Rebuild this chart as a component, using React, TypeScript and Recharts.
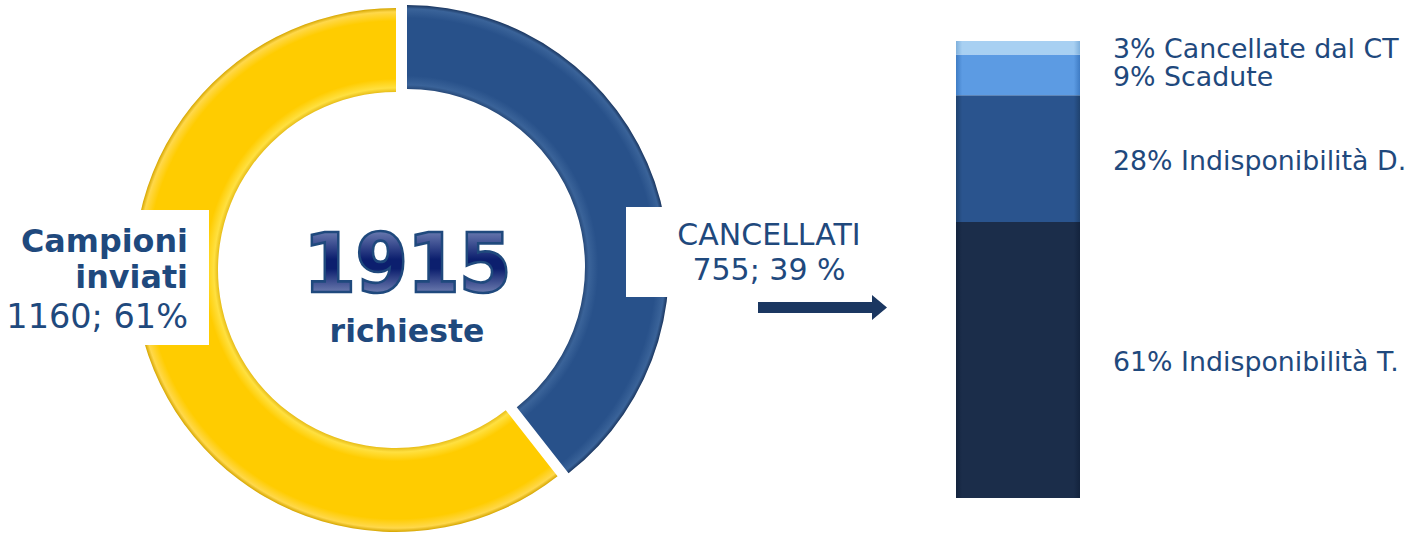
import React from 'react';
import { PieChart, Pie, Cell, BarChart, Bar, XAxis, YAxis, LabelList } from 'recharts';

// donut: richieste totali
const donutNames = ['CANCELLATI', 'Campioni inviati'];
const donutValues = [755, 1160];
const donutPct = [39, 61];

// breakdown of the cancelled requests (bottom to top)
const causeNames = ['Indisponibilità T.', 'Indisponibilità D.', 'Scadute', 'Cancellate dal CT'];
const causePct = [61, 28, 9, 3];
const causeKeys = ['t', 'd', 's', 'c'];

const TOTAL = 1915;
const TEXT = '#1F497D';
const FONT = '"DejaVu Sans", Verdana, sans-serif';

const donutData = donutNames.map((name, i) => ({ name, value: donutValues[i] }));
const barRow: Record<string, number | string> = { name: 'Cancellati' };
causeKeys.forEach((k, i) => (barRow[k] = causePct[i]));
const barData = [barRow];

const causeFills = ['url(#gT)', 'url(#gD)', 'url(#gS)', 'url(#gC)'];
const causeBase = [
  ['#13233d', '#1b2d4a', '#223a5e'],
  ['#1f426f', '#2a548e', '#3a68a6'],
  ['#3f7cc4', '#5c9be3', '#7fb3ee'],
  ['#7fb0dc', '#a8d0f2', '#cfe6fa'],
];

// donut geometry (page px)
const R_OUT = 262;
const R_IN = 178;
const blueC = { x: 407, y: 267 };
const yellowC = { x: 396, y: 270 };

// label rows: at least this far apart so the thin top segments stay readable
const LABEL_GAP = 28;
const labelY: number[] = [];

const Defs = () => (
  <svg width={0} height={0} style={{ position: 'absolute' }}>
    <defs>
      <radialGradient id="gBlue" gradientUnits="userSpaceOnUse" cx={blueC.x} cy={blueC.y} r={R_OUT}>
        <stop offset="0.67" stopColor="#1c3a66" />
        <stop offset="0.695" stopColor="#3a6399" />
        <stop offset="0.73" stopColor="#28518a" />
        <stop offset="0.95" stopColor="#28518a" />
        <stop offset="0.985" stopColor="#3a6399" />
        <stop offset="1" stopColor="#1a355e" />
      </radialGradient>
      <radialGradient id="gYellow" gradientUnits="userSpaceOnUse" cx={yellowC.x} cy={yellowC.y} r={R_OUT}>
        <stop offset="0.67" stopColor="#d9a800" />
        <stop offset="0.695" stopColor="#ffe040" />
        <stop offset="0.73" stopColor="#ffcc00" />
        <stop offset="0.95" stopColor="#ffcc00" />
        <stop offset="0.985" stopColor="#ffd84a" />
        <stop offset="1" stopColor="#d5a500" />
      </radialGradient>
      {causeBase.map((c, i) => (
        <linearGradient key={i} id={['gT', 'gD', 'gS', 'gC'][i]} x1="0" y1="0" x2="1" y2="0">
          <stop offset="0" stopColor={c[0]} />
          <stop offset="0.05" stopColor={c[1]} />
          <stop offset="0.5" stopColor={c[1]} />
          <stop offset="0.95" stopColor={c[1]} />
          <stop offset="1" stopColor={c[0]} />
        </linearGradient>
      ))}
      <linearGradient id="gNum" x1="0" y1="0" x2="0" y2="1">
        <stop offset="0" stopColor="#9aa9d2" />
        <stop offset="0.45" stopColor="#0c1f6e" />
        <stop offset="0.55" stopColor="#0c1f6e" />
        <stop offset="1" stopColor="#b9c5e3" />
      </linearGradient>
    </defs>
  </svg>
);

const CauseLabel = (props: any, i: number) => {
  const { x, y, width, height } = props;
  let cy = Number(y) + Number(height) / 2 + 2;
  // labels are drawn bottom-up; push a label up if it would crowd the one below
  if (i > 0 && labelY[i - 1] !== undefined) cy = Math.min(cy, labelY[i - 1] - LABEL_GAP);
  labelY[i] = cy;
  return (
    <text
      x={Number(x) + Number(width) + 33}
      y={cy}
      dominantBaseline="central"
      fill={TEXT}
      fontFamily={FONT}
      fontSize={26.8}
    >
      {`${causePct[i]}% ${causeNames[i]}`}
    </text>
  );
};

const App: React.FC = () => {
  return (
    <div style={{ position: 'absolute', left: 0, top: 0, width: 1426, height: 537, background: '#fff', overflow: 'hidden' }}>
      <Defs />
      <div style={{ position: 'absolute', left: 0, top: 0 }}>
        <PieChart width={1000} height={537} margin={{ top: 0, right: 0, bottom: 0, left: 0 }}>
          <Pie
            data={donutData}
            dataKey="value"
            cx={blueC.x}
            cy={blueC.y}
            innerRadius={R_IN}
            outerRadius={R_OUT}
            startAngle={90}
            endAngle={-270}
            stroke="none"
            isAnimationActive={false}
          >
            <Cell fill="url(#gBlue)" />
            <Cell fill="none" />
          </Pie>
          <Pie
            data={donutData}
            dataKey="value"
            cx={yellowC.x}
            cy={yellowC.y}
            innerRadius={R_IN}
            outerRadius={R_OUT}
            startAngle={90}
            endAngle={-270}
            stroke="none"
            isAnimationActive={false}
          >
            <Cell fill="none" />
            <Cell fill="url(#gYellow)" />
          </Pie>
        </PieChart>
      </div>
      <div style={{ position: 'absolute', left: 956, top: 11 }}>
        <BarChart
          width={470}
          height={487}
          data={barData}
          margin={{ top: 30, right: 346, bottom: 0, left: 0 }}
          barCategoryGap={0}
        >
          <XAxis dataKey="name" hide />
          <YAxis hide domain={[0, 101]} />
          {causeKeys.map((k, i) => (
            <Bar key={k} dataKey={k} stackId="a" fill={causeFills[i]} isAnimationActive={false}>
              <LabelList dataKey={k} content={(p: any) => CauseLabel(p, i)} />
            </Bar>
          ))}
        </BarChart>
      </div>
      <svg width={1426} height={537} style={{ position: 'absolute', left: 0, top: 0, pointerEvents: 'none' }}>
        {/* label boxes */}
        <rect x={0} y={210} width={209} height={135} fill="#fff" />
        <rect x={626} y={207} width={250} height={90} fill="#fff" />
        <text x={188} y={252} textAnchor="end" fill={TEXT} fontFamily={FONT} fontWeight="bold" fontSize={31.8}>
          Campioni
        </text>
        <text x={188} y={288} textAnchor="end" fill={TEXT} fontFamily={FONT} fontWeight="bold" fontSize={31.8}>
          inviati
        </text>
        <text x={188} y={328} textAnchor="end" fill={TEXT} fontFamily={FONT} fontSize={33.5}>
          {`${donutValues[1]}; ${donutPct[1]}%`}
        </text>
        <text x={769} y={245} textAnchor="middle" fill={TEXT} fontFamily={FONT} fontSize={30}>
          {donutNames[0]}
        </text>
        <text x={769} y={280} textAnchor="middle" fill={TEXT} fontFamily={FONT} fontSize={30}>
          {`${donutValues[0]}; ${donutPct[0]} %`}
        </text>
        {/* arrow */}
        <path d="M758,302 L872,302 L872,295 L887,307.5 L872,320 L872,313 L758,313 Z" fill="#1b3761" />
        {/* centre */}
        <g transform="translate(407,292) scale(1,1.08)">
          <text
            x={0}
            y={0}
            textAnchor="middle"
            fill="url(#gNum)"
            stroke="#1F497D"
            strokeWidth={2.5}
            fontFamily={FONT}
            fontWeight="bold"
            fontSize={76}
            letterSpacing={-1}
          >
            {TOTAL}
          </text>
        </g>
        <text x={407} y={342} textAnchor="middle" fill={TEXT} fontFamily={FONT} fontWeight="bold" fontSize={31.5}>
          richieste
        </text>
      </svg>
    </div>
  );
};

export default App;
